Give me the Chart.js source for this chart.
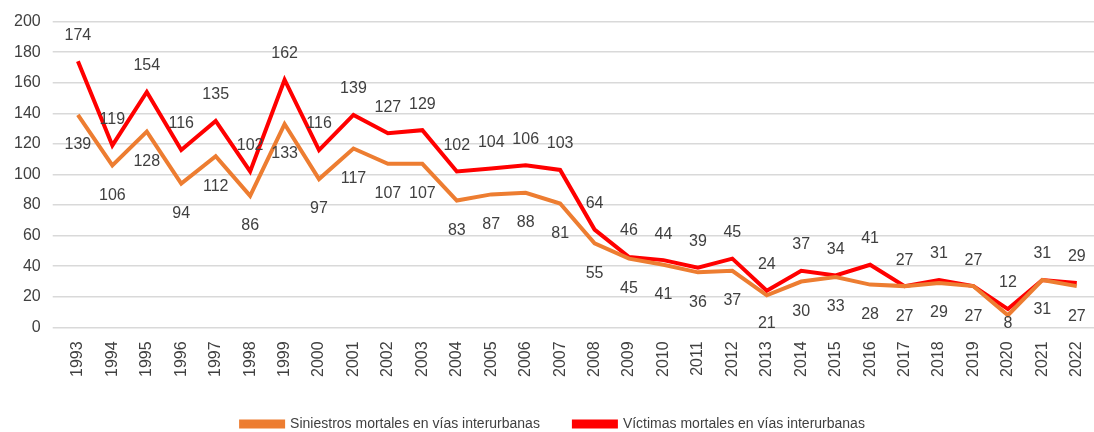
<!DOCTYPE html>
<html>
<head>
<meta charset="utf-8">
<script src="https://cdn.jsdelivr.net/npm/chart.js@4/dist/chart.umd.min.js"></script>
<style>
  html, body { margin: 0; padding: 0; background: #fff; }
  #wrap { width: 1094px; height: 432px; }
</style>
</head>
<body>
<div id="wrap"><canvas id="chart" width="1094" height="432"></canvas></div>
<script>
// años y series
const years = ['1993','1994','1995','1996','1997','1998','1999','2000','2001','2002','2003','2004','2005','2006','2007',
  '2008','2009','2010','2011','2012','2013','2014','2015','2016','2017','2018','2019','2020','2021','2022'];
const siniestros = [139,106,128,94,112,86,133,97,117,107,107,83,87,88,81,55,45,41,36,37,21,30,33,28,27,29,27,8,31,27];
const victimas = [174,119,154,116,135,102,162,116,139,127,129,102,104,106,103,64,46,44,39,45,24,37,34,41,27,31,27,12,31,29];
const yTicks = [0,20,40,60,80,100,120,140,160,180,200];

const FONT = 'Liberation Sans, Arial, sans-serif';

// etiquetas de datos: victimas encima, siniestros debajo (sin salir del area del grafico)
const valueLabels = {
  id: 'valueLabels',
  afterDatasetsDraw(chart) {
    const { ctx, chartArea } = chart;
    ctx.save();
    ctx.font = '16px ' + FONT;
    ctx.fillStyle = '#404040';
    ctx.textAlign = 'center';
    ctx.textBaseline = 'middle';
    chart.data.datasets.forEach((ds, i) => {
      const meta = chart.getDatasetMeta(i);
      const dy = ds.labelPos === 'above' ? -26 : 30;
      meta.data.forEach((pt, j) => {
        const y = Math.min(pt.y + dy, chartArea.bottom - 4);
        ctx.fillText(String(ds.data[j]), pt.x, y);
      });
    });
    ctx.restore();
  },
};

new Chart(document.getElementById('chart'), {
  type: 'line',
  data: {
    labels: years,
    datasets: [
      { label: 'Siniestros mortales en vías interurbanas', data: siniestros, borderColor: '#ED7D31', backgroundColor: '#ED7D31',
        borderWidth: 4, pointRadius: 0, tension: 0, labelPos: 'below' },
      { label: 'Víctimas mortales en vías interurbanas', data: victimas, borderColor: '#FF0000', backgroundColor: '#FF0000',
        borderWidth: 4, pointRadius: 0, tension: 0, labelPos: 'above' },
    ],
  },
  options: {
    responsive: false,
    animation: false,
    layout: { padding: { left: 2, right: -10, top: 8, bottom: -9 } },
    plugins: {
      legend: {
        position: 'bottom',
        labels: { boxWidth: 42, boxHeight: 5, color: '#404040', font: { size: 14, family: FONT }, padding: 34 },
      },
      tooltip: { enabled: false },
    },
    scales: {
      x: {
        offset: true,
        grid: { display: false },
        border: { color: '#d9d9d9' },
        ticks: { color: '#404040', font: { size: 16, family: FONT }, minRotation: 90, maxRotation: 90, padding: 6 },
        afterFit: (scale) => { scale.paddingRight = -10; },
      },
      y: {
        min: 0, max: 200,
        afterBuildTicks: (axis) => { axis.ticks = yTicks.map((v) => ({ value: v })); },
        grid: { color: '#d9d9d9', lineWidth: 1.5 },
        border: { display: false },
        ticks: { color: '#404040', font: { size: 16, family: FONT }, padding: 12 },
      },
    },
  },
  plugins: [valueLabels],
});
</script>
</body>
</html>
